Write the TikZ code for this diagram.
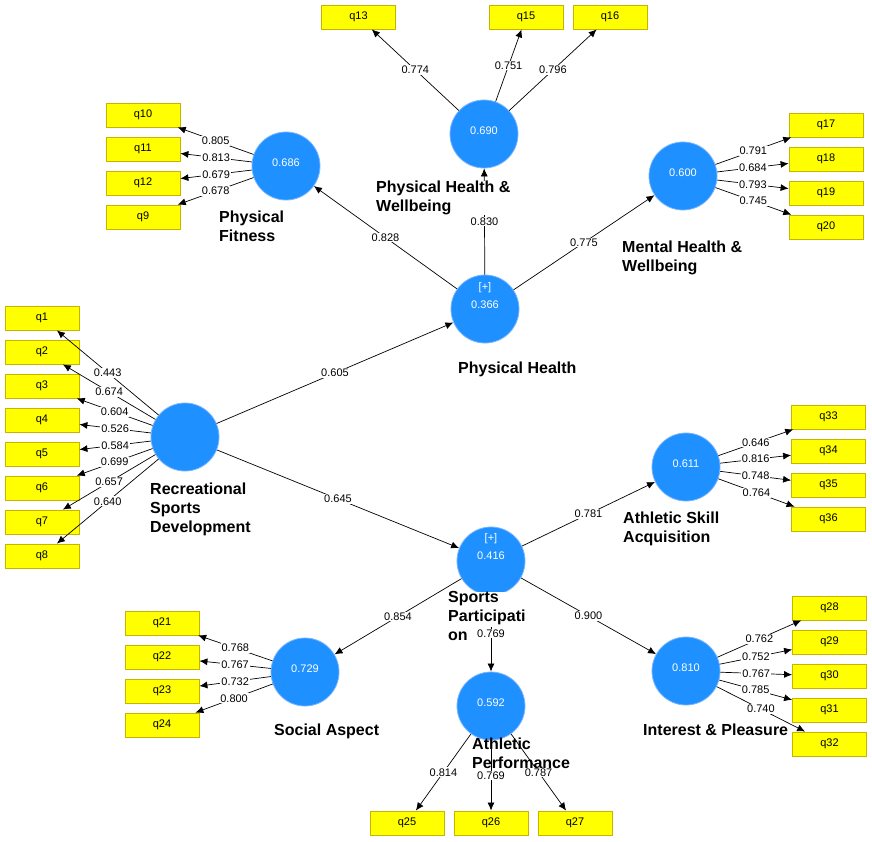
\documentclass[tikz,border=0pt]{standalone}
\usepackage{fontspec}
\setmainfont{Liberation Sans}
\usetikzlibrary{arrows.meta}
\definecolor{lvblue}{RGB}{30,144,255}
\definecolor{lvedge}{RGB}{120,180,255}
\definecolor{mvfill}{RGB}{255,255,0}
\definecolor{mvedge}{RGB}{200,180,0}
\begin{document}
\begin{tikzpicture}[x=1pt,y=-1pt,
  lv/.style={circle,fill=lvblue,draw=lvedge,line width=0.8pt,minimum size=68pt,inner sep=0},
  lvt/.style={text=white,inner sep=0,align=center,font=\fontsize{11}{18}\selectfont},
  mv/.style={rectangle,fill=mvfill,draw=mvedge,line width=0.8pt,minimum width=74pt,minimum height=24pt,inner sep=0,font=\fontsize{11}{13}\selectfont},
  ld/.style={draw=black,line width=0.7pt,-{Latex[length=8pt,width=7pt]}},
  lbl/.style={fill=white,inner sep=1pt,font=\fontsize{11}{13}\selectfont,midway},
  ttl/.style={anchor=north west,inner sep=0,align=left,font=\fontsize{16}{19}\selectfont\bfseries}]
\useasboundingbox (0,0) rectangle (872,841);
\fill[white] (0,0) rectangle (872,841);
% latent variables
\node[lv] (pf)  at (286,166) {};
\node[lv] (phw) at (484,134) {};
\node[lv] (mhw) at (683,176) {};
\node[lv] (ph)  at (485,309) {};
\node[lv] (rsd) at (185,437) {};
\node[lv] (sp)  at (491,561) {};
\node[lv] (asa) at (686,467) {};
\node[lv] (ip)  at (686,671) {};
\node[lv] (sa)  at (305,672) {};
\node[lv] (ap)  at (491,706) {};
\node[lvt] (pft)  at (286,163) {0.686};
\node[lvt] (phwt) at (484,131) {0.690};
\node[lvt] (mhwt) at (683,173) {0.600};
\node[lvt] (pht)  at (485,296) {[+]\\0.366};
\node[lvt] (spt)  at (491,547) {[+]\\0.416};
\node[lvt] (asat) at (686,464) {0.611};
\node[lvt] (ipt)  at (686,668) {0.810};
\node[lvt] (sat)  at (305,669) {0.729};
\node[lvt] (apt)  at (491,703) {0.592};
% indicators
\node[mv] (q13) at (358.5,17) {q13};
\node[mv] (q15) at (526,17) {q15};
\node[mv] (q16) at (610,17) {q16};
\node[mv] (q10) at (143,115) {q10};
\node[mv] (q11) at (143,149) {q11};
\node[mv] (q12) at (143,183) {q12};
\node[mv] (q9)  at (143,217) {q9};
\node[mv] (q17) at (826,125) {q17};
\node[mv] (q18) at (826,159) {q18};
\node[mv] (q19) at (826,193) {q19};
\node[mv] (q20) at (826,227) {q20};
\node[mv] (q1) at (42,318) {q1};
\node[mv] (q2) at (42,352) {q2};
\node[mv] (q3) at (42,386) {q3};
\node[mv] (q4) at (42,420) {q4};
\node[mv] (q5) at (42,454) {q5};
\node[mv] (q6) at (42,488) {q6};
\node[mv] (q7) at (42,522) {q7};
\node[mv] (q8) at (42,556) {q8};
\node[mv] (q33) at (828.5,417) {q33};
\node[mv] (q34) at (828.5,451) {q34};
\node[mv] (q35) at (828.5,485) {q35};
\node[mv] (q36) at (828.5,519) {q36};
\node[mv] (q28) at (829.5,608) {q28};
\node[mv] (q29) at (829.5,642) {q29};
\node[mv] (q30) at (829.5,676) {q30};
\node[mv] (q31) at (829.5,710) {q31};
\node[mv] (q32) at (829.5,744) {q32};
\node[mv] (q21) at (162,623) {q21};
\node[mv] (q22) at (162,657) {q22};
\node[mv] (q23) at (162,691) {q23};
\node[mv] (q24) at (162,725) {q24};
\node[mv] (q25) at (407,823) {q25};
\node[mv] (q26) at (491,823) {q26};
\node[mv] (q27) at (575,823) {q27};
% outer loadings
\draw[ld] (phw) -- node[lbl]{0.774} (q13);
\draw[ld] (phw) -- node[lbl]{0.751} (q15);
\draw[ld] (phw) -- node[lbl]{0.796} (q16);
\draw[ld] (pf) -- node[lbl]{0.805} (q10);
\draw[ld] (pf) -- node[lbl]{0.813} (q11);
\draw[ld] (pf) -- node[lbl]{0.679} (q12);
\draw[ld] (pf) -- node[lbl]{0.678} (q9);
\draw[ld] (mhw) -- node[lbl]{0.791} (q17);
\draw[ld] (mhw) -- node[lbl]{0.684} (q18);
\draw[ld] (mhw) -- node[lbl]{0.793} (q19);
\draw[ld] (mhw) -- node[lbl]{0.745} (q20);
\draw[ld] (rsd) -- node[lbl]{0.443} (q1);
\draw[ld] (rsd) -- node[lbl]{0.674} (q2);
\draw[ld] (rsd) -- node[lbl]{0.604} (q3);
\draw[ld] (rsd) -- node[lbl]{0.526} (q4);
\draw[ld] (rsd) -- node[lbl]{0.584} (q5);
\draw[ld] (rsd) -- node[lbl]{0.699} (q6);
\draw[ld] (rsd) -- node[lbl]{0.657} (q7);
\draw[ld] (rsd) -- node[lbl]{0.640} (q8);
\draw[ld] (asa) -- node[lbl]{0.646} (q33);
\draw[ld] (asa) -- node[lbl]{0.816} (q34);
\draw[ld] (asa) -- node[lbl]{0.748} (q35);
\draw[ld] (asa) -- node[lbl]{0.764} (q36);
\draw[ld] (ip) -- node[lbl]{0.762} (q28);
\draw[ld] (ip) -- node[lbl]{0.752} (q29);
\draw[ld] (ip) -- node[lbl]{0.767} (q30);
\draw[ld] (ip) -- node[lbl]{0.785} (q31);
\draw[ld] (ip) -- node[lbl]{0.740} (q32);
\draw[ld] (sa) -- node[lbl]{0.768} (q21);
\draw[ld] (sa) -- node[lbl]{0.767} (q22);
\draw[ld] (sa) -- node[lbl]{0.732} (q23);
\draw[ld] (sa) -- node[lbl]{0.800} (q24);
\draw[ld] (ap) -- node[lbl]{0.814} (q25);
\draw[ld] (ap) -- node[lbl]{0.769} (q26);
\draw[ld] (ap) -- node[lbl]{0.787} (q27);
% structural paths
\draw[ld] (rsd) -- node[lbl]{0.605} (ph);
\draw[ld] (rsd) -- node[lbl]{0.645} (sp);
\draw[ld] (ph) -- node[lbl]{0.828} (pf);
\draw[ld] (ph) -- node[lbl]{0.830} (phw);
\draw[ld] (ph) -- node[lbl]{0.775} (mhw);
\draw[ld] (sp) -- node[lbl]{0.781} (asa);
\draw[ld] (sp) -- node[lbl]{0.854} (sa);
\draw[ld] (sp) -- node[lbl]{0.900} (ip);
% titles
\node[ttl] (pfl)  at (219,210.5) {Physical\\Fitness};
\node[ttl,fill=white] (phwl) at (376,180.5) {Physical Health \&\\Wellbeing};
\node[ttl] (mhwl) at (622,240.5) {Mental Health \&\\Wellbeing};
\node[ttl] (phl)  at (458,361.5) {Physical Health};
\node[ttl] (rsdl) at (150,482.5) {Recreational\\Sports\\Development};
\node[ttl,fill=white] (spl)  at (448,591.5) {Sports\\Participati\\on};
\node[ttl] (asal) at (623,511.5) {Athletic Skill\\Acquisition};
\node[ttl] (ipl)  at (643,723.5) {Interest \& Pleasure};
\node[ttl] (sal)  at (274,723.5) {Social Aspect};
\node[ttl] (apl)  at (472,737.5) {Athletic\\Performance};
% path partly hidden behind the Sports Participation title
\draw[ld,shorten <=32pt] (sp) -- node[lbl]{0.769} (ap);
\end{tikzpicture}
\end{document}
